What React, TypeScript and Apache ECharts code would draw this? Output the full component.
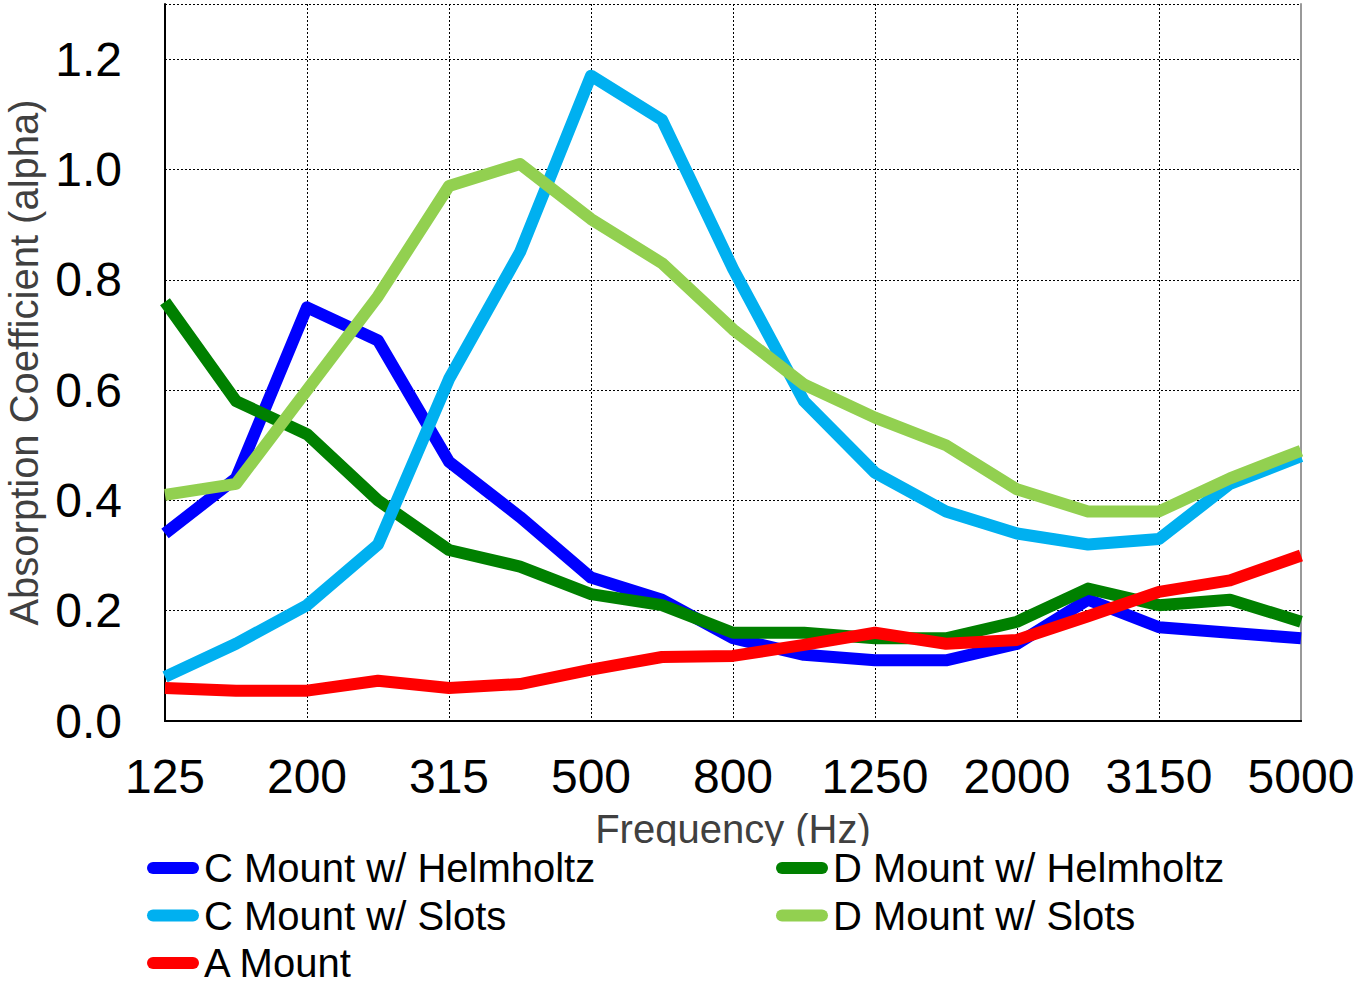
import React, { useEffect, useRef } from "react";
import * as echarts from "echarts";

const frequencies = ["125", "160", "200", "250", "315", "400", "500", "630", "800", "1000", "1250", "1600", "2000", "2500", "3150", "4000", "5000"];
const cMountHelmholtz = [0.34, 0.44, 0.75, 0.69, 0.47, 0.37, 0.26, 0.22, 0.15, 0.12, 0.11, 0.11, 0.14, 0.22, 0.17, 0.16, 0.15];
const cMountSlots = [0.08, 0.14, 0.21, 0.32, 0.62, 0.85, 1.17, 1.09, 0.82, 0.58, 0.45, 0.38, 0.34, 0.32, 0.33, 0.43, 0.48];
const dMountHelmholtz = [0.76, 0.58, 0.52, 0.40, 0.31, 0.28, 0.23, 0.21, 0.16, 0.16, 0.15, 0.15, 0.18, 0.24, 0.21, 0.22, 0.18];
const dMountSlots = [0.41, 0.43, 0.60, 0.77, 0.97, 1.01, 0.91, 0.83, 0.71, 0.61, 0.55, 0.50, 0.42, 0.38, 0.38, 0.44, 0.49];
const aMount = [0.06, 0.055, 0.055, 0.073, 0.06, 0.067, 0.093, 0.116, 0.118, 0.138, 0.16, 0.14, 0.147, 0.19, 0.234, 0.255, 0.30];

const FONT = "'Liberation Sans', Arial, sans-serif";
const PILL = "path://M6,0 H46 A6,6 0 0 1 46,12 H6 A6,6 0 0 1 6,0 Z";

export default function App() {
  const ref = useRef<HTMLDivElement>(null);
  useEffect(() => {
    const chart = echarts.init(ref.current!, null, { renderer: "svg" });
    const mk = (name: string, data: number[], color: string) => ({
      name,
      type: "line",
      data,
      showSymbol: false,
      symbol: "none",
      clip: true,
      color,
      lineStyle: { width: 12, color, join: "round" },
    });
    const legendBase = {
      orient: "vertical",
      top: 848,
      height: 300,
      padding: 0,
      itemGap: 7.5,
      itemWidth: 52,
      itemHeight: 14,
      icon: PILL,
      z: 10,
      textStyle: { fontSize: 40, lineHeight: 40, color: "#000", fontFamily: FONT },
    };
    chart.setOption({
      animation: false,
      backgroundColor: "#fff",
      textStyle: { fontFamily: FONT },
      grid: { left: 165, right: 71, top: 4, bottom: 263, show: false, outerBoundsMode: "none", containLabel: false },
      xAxis: [
        {
          type: "category",
          data: frequencies,
          boundaryGap: false,
          name: "Frequency (Hz)",
          nameLocation: "middle",
          nameGap: 88,
          nameTextStyle: { fontSize: 40, color: "#404040", fontFamily: FONT },
          axisLine: { lineStyle: { color: "#000", width: 2 } },
          axisTick: { show: false },
          axisLabel: { interval: 1, fontSize: 48, color: "#000", margin: 31, fontFamily: FONT },
          splitLine: { show: true, interval: 1, lineStyle: { color: "#000", width: 1, type: [2, 2] } },
        },
        {
          type: "category",
          data: frequencies,
          boundaryGap: false,
          position: "top",
          axisLine: { lineStyle: { color: "#000", width: 2 } },
          axisTick: { show: false },
          axisLabel: { show: false },
          splitLine: { show: false },
        },
      ],
      yAxis: [
        {
          type: "value",
          min: 0,
          max: 1.3,
          interval: 0.2,
          name: "Absorption Coefficient (alpha)",
          nameLocation: "middle",
          nameGap: 112,
          nameTextStyle: { fontSize: 40, color: "#404040", fontFamily: FONT },
          axisLine: { show: true, lineStyle: { color: "#000", width: 2 } },
          axisTick: { show: false },
          axisLabel: {
            fontSize: 48,
            color: "#000",
            margin: 43,
            fontFamily: FONT,
            showMaxLabel: false,
            formatter: (v: number) => (v > 1.25 ? "" : v.toFixed(1)),
          },
          splitLine: { show: true, lineStyle: { color: "#000", width: 1, type: [2, 2] } },
        },
        {
          type: "value",
          min: 0,
          max: 1.3,
          position: "right",
          axisLine: { show: true, lineStyle: { color: "#999", width: 2 } },
          axisTick: { show: false },
          axisLabel: { show: false },
          splitLine: { show: false },
        },
      ],
      legend: [
        { ...legendBase, left: 147, data: ["C Mount w/ Helmholtz", "C Mount w/ Slots", "A Mount"] },
        { ...legendBase, left: 776, data: ["D Mount w/ Helmholtz", "D Mount w/ Slots"] },
      ],
      graphic: [
        {
          type: "rect",
          left: 0,
          top: 846,
          z: 5,
          shape: { width: 1372, height: 16 },
          style: { fill: "#fff" },
        },
      ],
      series: [
        mk("C Mount w/ Helmholtz", cMountHelmholtz, "#0000FF"),
        mk("D Mount w/ Helmholtz", dMountHelmholtz, "#008000"),
        mk("C Mount w/ Slots", cMountSlots, "#00B0F0"),
        mk("D Mount w/ Slots", dMountSlots, "#92D050"),
        mk("A Mount", aMount, "#FF0000"),
      ],
    });
    return () => chart.dispose();
  }, []);
  return (
    <div
      ref={ref}
      style={{ position: "fixed", left: 0, top: 0, width: 1372, height: 984, background: "#fff" }}
    />
  );
}
